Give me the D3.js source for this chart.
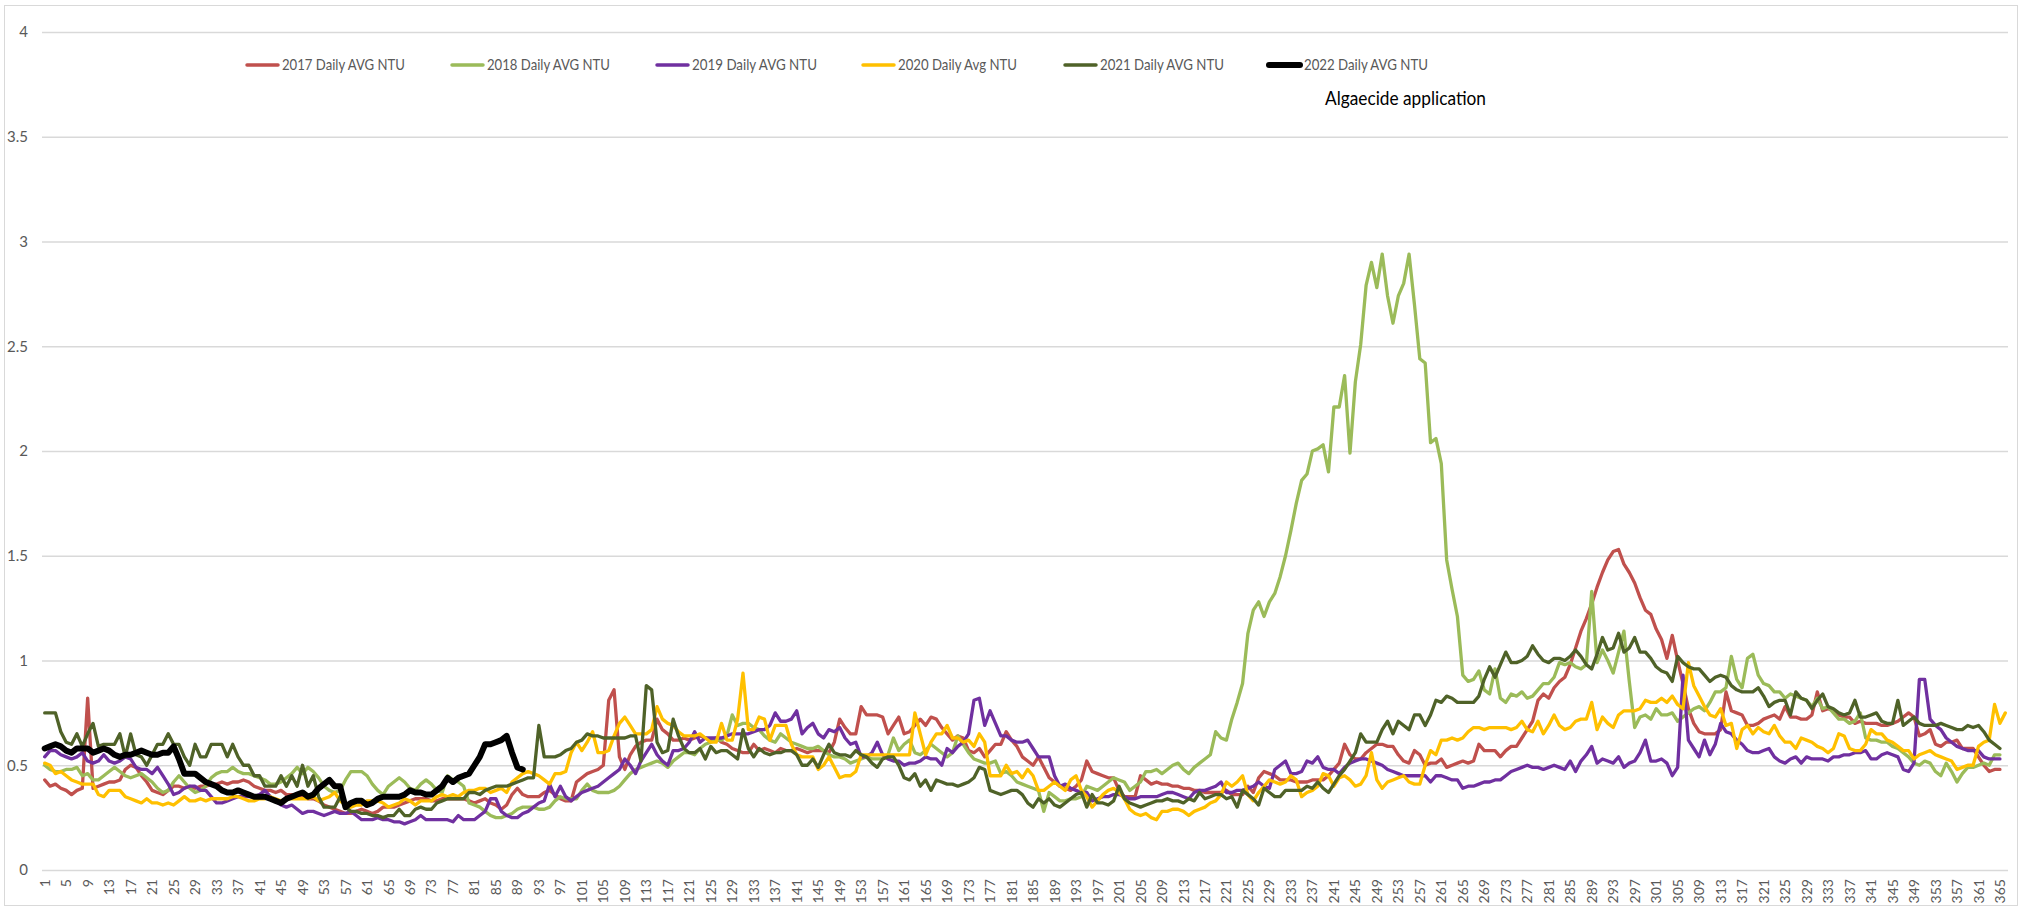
<!DOCTYPE html>
<html>
<head>
<meta charset="utf-8">
<script src="https://cdn.jsdelivr.net/npm/d3@7"></script>
<style>
    body { margin: 0; background: #fff; }
    text { font-family: Lato, 'Liberation Sans', sans-serif; }
</style>
</head>
<body>
<script>
// daily average turbidity (NTU)
let y2017 = [0.43,0.40,0.41,0.39,0.38,0.36,0.38,0.39,0.82,0.39,
    0.40,0.41,0.42,0.42,0.43,0.48,0.50,0.49,0.45,0.42,
    0.38,0.37,0.36,0.38,0.40,0.40,0.39,0.40,0.39,0.40,
    0.40,0.41,0.41,0.42,0.41,0.42,0.42,0.43,0.42,0.40,
    0.39,0.38,0.38,0.37,0.38,0.36,0.36,0.35,0.35,0.34,
    0.34,0.33,0.31,0.30,0.29,0.28,0.27,0.27,0.28,0.29,
    0.28,0.27,0.28,0.30,0.30,0.30,0.31,0.32,0.33,0.34,
    0.34,0.34,0.33,0.33,0.34,0.34,0.34,0.34,0.34,0.33,
    0.32,0.33,0.34,0.32,0.31,0.29,0.31,0.36,0.39,0.36,
    0.35,0.35,0.35,0.37,0.38,0.36,0.34,0.33,0.33,0.42,
    0.44,0.46,0.47,0.48,0.50,0.81,0.86,0.54,0.48,0.55,
    0.59,0.61,0.62,0.62,0.72,0.67,0.65,0.62,0.62,0.63,
    0.62,0.63,0.64,0.63,0.62,0.63,0.61,0.60,0.58,0.57,
    0.56,0.56,0.60,0.57,0.58,0.57,0.56,0.58,0.57,0.57,
    0.58,0.57,0.56,0.57,0.57,0.57,0.56,0.61,0.72,0.68,
    0.65,0.65,0.78,0.74,0.74,0.74,0.73,0.65,0.69,0.73,
    0.65,0.66,0.69,0.72,0.69,0.73,0.72,0.68,0.65,0.62,
    0.64,0.63,0.57,0.56,0.58,0.54,0.57,0.60,0.60,0.66,
    0.62,0.59,0.54,0.52,0.50,0.54,0.49,0.44,0.42,0.40,
    0.39,0.38,0.40,0.43,0.52,0.47,0.46,0.45,0.44,0.44,
    0.38,0.35,0.35,0.35,0.45,0.43,0.41,0.42,0.41,0.41,
    0.40,0.40,0.39,0.39,0.38,0.38,0.37,0.37,0.37,0.37,
    0.38,0.36,0.36,0.36,0.40,0.37,0.44,0.47,0.46,0.45,
    0.43,0.43,0.43,0.42,0.42,0.42,0.43,0.43,0.43,0.45,
    0.48,0.51,0.60,0.55,0.53,0.53,0.56,0.58,0.60,0.60,
    0.59,0.59,0.55,0.52,0.51,0.57,0.55,0.50,0.51,0.51,
    0.53,0.49,0.50,0.51,0.52,0.51,0.52,0.60,0.57,0.57,
    0.57,0.54,0.57,0.59,0.59,0.63,0.67,0.71,0.81,0.84,
    0.82,0.87,0.90,0.92,0.98,1.06,1.14,1.20,1.27,1.35,
    1.42,1.48,1.52,1.53,1.46,1.42,1.37,1.30,1.24,1.22,
    1.15,1.10,1.01,1.12,1.00,0.89,0.77,0.70,0.66,0.65,
    0.65,0.65,0.67,0.85,0.76,0.75,0.74,0.69,0.69,0.70,
    0.72,0.73,0.74,0.72,0.78,0.73,0.73,0.72,0.72,0.74,
    0.85,0.76,0.77,0.76,0.74,0.73,0.73,0.70,0.71,0.70,
    0.70,0.70,0.69,0.69,0.70,0.71,0.73,0.75,0.73,0.64,
    0.65,0.67,0.60,0.59,0.61,0.61,0.62,0.58,0.58,0.58,
    0.54,0.50,0.47,0.48,0.48]

let y2018 = [0.50,0.48,0.47,0.47,0.48,0.48,0.49,0.45,0.46,0.43,
    0.43,0.45,0.47,0.49,0.47,0.45,0.44,0.45,0.46,0.44,
    0.42,0.39,0.37,0.38,0.42,0.45,0.42,0.39,0.37,0.38,
    0.40,0.44,0.46,0.47,0.47,0.49,0.47,0.46,0.46,0.45,
    0.44,0.43,0.41,0.41,0.42,0.44,0.46,0.49,0.46,0.49,
    0.47,0.44,0.40,0.38,0.37,0.38,0.43,0.47,0.47,0.47,
    0.45,0.41,0.38,0.36,0.40,0.42,0.44,0.42,0.39,0.38,
    0.41,0.43,0.41,0.38,0.37,0.45,0.43,0.42,0.40,0.32,
    0.31,0.30,0.28,0.26,0.25,0.25,0.26,0.27,0.29,0.30,
    0.30,0.30,0.29,0.29,0.30,0.33,0.35,0.34,0.34,0.34,
    0.38,0.41,0.38,0.37,0.37,0.37,0.38,0.40,0.43,0.46,
    0.48,0.49,0.50,0.51,0.52,0.51,0.49,0.52,0.54,0.56,
    0.56,0.55,0.58,0.60,0.61,0.62,0.62,0.64,0.74,0.69,
    0.70,0.70,0.68,0.67,0.64,0.62,0.61,0.65,0.63,0.61,
    0.60,0.59,0.58,0.58,0.59,0.57,0.55,0.54,0.54,0.53,
    0.51,0.52,0.53,0.54,0.53,0.53,0.53,0.55,0.63,0.57,
    0.60,0.62,0.56,0.55,0.57,0.60,0.58,0.56,0.54,0.56,
    0.64,0.60,0.56,0.53,0.52,0.51,0.51,0.52,0.46,0.47,
    0.45,0.42,0.41,0.40,0.39,0.38,0.28,0.37,0.35,0.33,
    0.33,0.34,0.34,0.35,0.40,0.39,0.38,0.40,0.42,0.44,
    0.43,0.42,0.38,0.40,0.42,0.47,0.47,0.48,0.46,0.48,
    0.50,0.51,0.48,0.46,0.49,0.51,0.53,0.55,0.66,0.63,
    0.62,0.72,0.80,0.89,1.13,1.24,1.28,1.21,1.28,1.32,
    1.40,1.50,1.62,1.75,1.86,1.89,2.00,2.01,2.03,1.90,
    2.21,2.21,2.36,1.99,2.33,2.51,2.79,2.90,2.78,2.94,
    2.74,2.61,2.74,2.80,2.94,2.70,2.44,2.42,2.04,2.06,
    1.94,1.48,1.34,1.21,0.93,0.90,0.91,0.95,0.86,0.84,
    0.96,0.82,0.80,0.84,0.83,0.85,0.82,0.83,0.86,0.89,
    0.89,0.92,0.99,0.98,0.99,0.97,0.96,0.98,1.33,0.99,
    1.05,1.00,0.94,1.04,1.14,0.90,0.68,0.73,0.74,0.72,
    0.77,0.74,0.74,0.75,0.71,0.73,0.75,0.77,0.78,0.76,
    0.80,0.85,0.85,0.87,1.02,0.91,0.87,1.01,1.03,0.93,
    0.89,0.88,0.85,0.85,0.82,0.84,0.83,0.82,0.81,0.78,
    0.82,0.77,0.78,0.75,0.72,0.72,0.70,0.71,0.75,0.63,
    0.62,0.62,0.61,0.61,0.59,0.58,0.56,0.54,0.51,0.50,
    0.52,0.51,0.47,0.45,0.51,0.47,0.42,0.46,0.49,0.49,
    0.50,0.51,0.50,0.55,0.55]

let y2019 = [0.54,0.57,0.57,0.55,0.54,0.53,0.54,0.56,0.52,0.51,
    0.52,0.55,0.52,0.51,0.52,0.54,0.53,0.49,0.48,0.48,
    0.46,0.49,0.45,0.41,0.36,0.37,0.39,0.40,0.40,0.38,
    0.38,0.35,0.32,0.32,0.33,0.34,0.35,0.35,0.35,0.35,
    0.36,0.38,0.35,0.33,0.31,0.30,0.31,0.29,0.27,0.28,
    0.28,0.27,0.26,0.27,0.28,0.27,0.27,0.28,0.26,0.24,
    0.24,0.24,0.25,0.24,0.24,0.23,0.23,0.22,0.23,0.24,
    0.26,0.24,0.24,0.24,0.24,0.24,0.23,0.26,0.24,0.24,
    0.24,0.26,0.28,0.34,0.34,0.28,0.26,0.25,0.25,0.27,
    0.28,0.30,0.32,0.33,0.41,0.35,0.40,0.35,0.33,0.35,
    0.37,0.38,0.39,0.40,0.42,0.44,0.46,0.48,0.53,0.50,
    0.46,0.52,0.56,0.60,0.55,0.52,0.50,0.57,0.57,0.58,
    0.61,0.66,0.61,0.63,0.63,0.63,0.63,0.64,0.65,0.65,
    0.65,0.65,0.66,0.67,0.67,0.69,0.75,0.71,0.71,0.72,
    0.76,0.65,0.68,0.70,0.65,0.63,0.67,0.66,0.68,0.63,
    0.60,0.61,0.54,0.54,0.56,0.61,0.55,0.53,0.52,0.52,
    0.50,0.51,0.51,0.52,0.54,0.53,0.53,0.50,0.58,0.56,
    0.59,0.61,0.65,0.81,0.82,0.69,0.76,0.70,0.64,0.64,
    0.62,0.61,0.61,0.62,0.58,0.54,0.54,0.54,0.45,0.40,
    0.41,0.39,0.38,0.37,0.37,0.33,0.34,0.35,0.35,0.36,
    0.36,0.35,0.34,0.34,0.35,0.35,0.35,0.35,0.36,0.37,
    0.37,0.36,0.35,0.34,0.37,0.38,0.38,0.39,0.40,0.42,
    0.37,0.37,0.38,0.38,0.39,0.40,0.42,0.40,0.39,0.48,
    0.50,0.52,0.46,0.46,0.47,0.52,0.51,0.54,0.49,0.48,
    0.48,0.46,0.49,0.51,0.52,0.53,0.53,0.52,0.51,0.50,
    0.48,0.47,0.46,0.45,0.45,0.45,0.45,0.45,0.42,0.45,
    0.45,0.44,0.43,0.43,0.39,0.40,0.40,0.41,0.42,0.42,
    0.43,0.43,0.45,0.47,0.48,0.49,0.50,0.49,0.49,0.48,
    0.49,0.50,0.49,0.48,0.52,0.47,0.52,0.55,0.59,0.51,
    0.53,0.52,0.51,0.54,0.49,0.51,0.52,0.56,0.62,0.52,
    0.52,0.53,0.51,0.45,0.49,0.93,0.62,0.58,0.54,0.62,
    0.55,0.60,0.70,0.66,0.65,0.62,0.60,0.57,0.56,0.56,
    0.57,0.58,0.54,0.52,0.51,0.53,0.54,0.51,0.54,0.53,
    0.53,0.53,0.52,0.54,0.54,0.55,0.55,0.56,0.56,0.57,
    0.53,0.53,0.55,0.56,0.55,0.54,0.48,0.47,0.51,0.91,
    0.91,0.72,0.69,0.67,0.63,0.61,0.59,0.58,0.57,0.57,
    0.57,0.54,0.53,0.53,0.53]

// 2020 was a leap year: 366 days
let y2020 = [0.51,0.50,0.46,0.47,0.45,0.43,0.42,0.41,0.41,0.41,
    0.36,0.35,0.38,0.38,0.38,0.35,0.34,0.33,0.32,0.34,
    0.32,0.32,0.31,0.32,0.31,0.33,0.35,0.33,0.33,0.34,
    0.33,0.34,0.34,0.34,0.34,0.35,0.35,0.34,0.33,0.33,
    0.34,0.34,0.35,0.34,0.33,0.34,0.34,0.34,0.34,0.34,
    0.35,0.33,0.34,0.35,0.37,0.33,0.31,0.30,0.31,0.31,
    0.33,0.33,0.33,0.32,0.30,0.31,0.32,0.34,0.33,0.31,
    0.33,0.33,0.33,0.35,0.36,0.35,0.36,0.35,0.37,0.38,
    0.38,0.39,0.39,0.37,0.38,0.39,0.37,0.42,0.44,0.46,
    0.47,0.46,0.45,0.43,0.41,0.46,0.46,0.47,0.56,0.61,
    0.57,0.61,0.66,0.56,0.56,0.57,0.64,0.70,0.73,0.69,
    0.65,0.65,0.65,0.67,0.78,0.72,0.70,0.69,0.66,0.64,
    0.64,0.64,0.65,0.63,0.61,0.61,0.70,0.62,0.62,0.72,
    0.94,0.67,0.67,0.73,0.72,0.62,0.69,0.69,0.69,0.60,
    0.55,0.54,0.54,0.54,0.48,0.50,0.54,0.49,0.44,0.45,
    0.45,0.47,0.55,0.55,0.55,0.55,0.55,0.55,0.55,0.55,
    0.55,0.55,0.75,0.65,0.55,0.61,0.65,0.65,0.69,0.63,
    0.63,0.61,0.62,0.59,0.65,0.61,0.45,0.45,0.45,0.50,
    0.46,0.47,0.44,0.48,0.45,0.38,0.38,0.40,0.42,0.40,
    0.38,0.43,0.45,0.38,0.35,0.30,0.33,0.36,0.38,0.39,
    0.37,0.34,0.29,0.27,0.26,0.27,0.25,0.24,0.28,0.28,
    0.29,0.29,0.28,0.26,0.28,0.29,0.30,0.32,0.33,0.36,
    0.42,0.40,0.42,0.45,0.36,0.33,0.37,0.40,0.43,0.42,
    0.41,0.42,0.45,0.43,0.35,0.37,0.38,0.40,0.46,0.45,
    0.40,0.44,0.45,0.43,0.40,0.41,0.45,0.56,0.43,0.39,
    0.42,0.43,0.44,0.45,0.42,0.41,0.41,0.50,0.57,0.55,
    0.62,0.62,0.63,0.62,0.63,0.66,0.68,0.68,0.67,0.68,
    0.68,0.68,0.68,0.67,0.68,0.71,0.67,0.66,0.71,0.65,
    0.69,0.74,0.69,0.67,0.68,0.71,0.72,0.72,0.80,0.67,
    0.73,0.70,0.68,0.74,0.76,0.76,0.76,0.77,0.81,0.80,
    0.80,0.82,0.80,0.83,0.79,0.77,0.99,0.88,0.83,0.78,
    0.74,0.73,0.77,0.69,0.70,0.58,0.67,0.69,0.65,0.68,
    0.66,0.65,0.69,0.64,0.61,0.61,0.58,0.63,0.62,0.61,
    0.59,0.58,0.56,0.58,0.65,0.64,0.58,0.57,0.57,0.60,
    0.67,0.65,0.65,0.62,0.61,0.59,0.57,0.57,0.53,0.55,
    0.56,0.57,0.55,0.54,0.53,0.52,0.48,0.49,0.50,0.50,
    0.59,0.61,0.62,0.79,0.70,0.75]

let y2021 = [0.75,0.75,0.75,0.66,0.61,0.60,0.65,0.59,0.65,0.70,
    0.59,0.60,0.60,0.60,0.65,0.54,0.65,0.55,0.54,0.50,
    0.55,0.60,0.60,0.65,0.60,0.60,0.54,0.50,0.60,0.54,
    0.54,0.60,0.60,0.60,0.54,0.60,0.54,0.50,0.50,0.45,
    0.45,0.40,0.40,0.40,0.45,0.40,0.45,0.40,0.50,0.40,
    0.45,0.35,0.30,0.30,0.30,0.35,0.30,0.28,0.28,0.27,
    0.27,0.26,0.26,0.25,0.26,0.26,0.29,0.26,0.26,0.29,
    0.30,0.29,0.29,0.32,0.33,0.34,0.34,0.34,0.34,0.37,
    0.37,0.36,0.38,0.39,0.40,0.40,0.40,0.41,0.42,0.43,
    0.44,0.44,0.69,0.54,0.54,0.54,0.55,0.57,0.58,0.61,
    0.62,0.65,0.64,0.64,0.63,0.63,0.63,0.63,0.63,0.64,
    0.64,0.52,0.88,0.86,0.61,0.56,0.57,0.72,0.64,0.58,
    0.56,0.56,0.58,0.53,0.59,0.56,0.57,0.57,0.55,0.53,
    0.67,0.58,0.54,0.58,0.56,0.55,0.56,0.56,0.57,0.57,
    0.55,0.50,0.50,0.53,0.49,0.55,0.60,0.56,0.55,0.55,
    0.54,0.57,0.55,0.54,0.51,0.49,0.53,0.54,0.54,0.50,
    0.44,0.43,0.46,0.40,0.43,0.38,0.43,0.42,0.41,0.41,
    0.40,0.41,0.42,0.44,0.49,0.48,0.38,0.37,0.36,0.37,
    0.38,0.38,0.36,0.32,0.30,0.34,0.32,0.34,0.31,0.30,
    0.32,0.34,0.36,0.37,0.30,0.36,0.32,0.32,0.31,0.33,
    0.40,0.34,0.32,0.31,0.30,0.31,0.32,0.33,0.33,0.34,
    0.33,0.33,0.32,0.34,0.33,0.37,0.34,0.35,0.36,0.36,
    0.34,0.35,0.30,0.38,0.36,0.34,0.31,0.39,0.37,0.35,
    0.35,0.38,0.38,0.38,0.38,0.40,0.39,0.42,0.39,0.37,
    0.41,0.45,0.48,0.52,0.56,0.65,0.61,0.61,0.61,0.67,
    0.71,0.65,0.71,0.69,0.67,0.74,0.74,0.69,0.74,0.81,
    0.80,0.83,0.82,0.80,0.80,0.80,0.80,0.83,0.91,0.97,
    0.92,0.98,1.04,0.99,0.99,1.00,1.02,1.07,1.03,1.00,
    0.99,1.01,1.01,1.00,1.02,1.05,1.02,0.98,0.96,1.03,
    1.11,1.05,1.06,1.13,1.04,1.06,1.11,1.04,1.04,1.01,
    0.97,0.95,0.94,0.90,1.02,0.99,0.97,0.96,0.96,0.93,
    0.90,0.92,0.93,0.92,0.88,0.86,0.85,0.85,0.85,0.87,
    0.83,0.78,0.80,0.81,0.81,0.74,0.85,0.82,0.81,0.77,
    0.81,0.84,0.78,0.77,0.75,0.74,0.75,0.81,0.73,0.73,
    0.74,0.75,0.71,0.70,0.70,0.81,0.69,0.71,0.73,0.70,
    0.69,0.69,0.69,0.70,0.69,0.68,0.67,0.67,0.69,0.68,
    0.69,0.66,0.62,0.60,0.58]

// 2022 only runs to the end of March
let y2022 = [0.58,0.59,0.60,0.59,0.57,0.56,0.58,0.58,0.58,0.56,
    0.57,0.58,0.57,0.55,0.54,0.55,0.55,0.56,0.57,0.56,
    0.55,0.55,0.56,0.56,0.59,0.53,0.46,0.46,0.46,0.44,
    0.42,0.41,0.40,0.38,0.37,0.37,0.38,0.37,0.36,0.35,
    0.35,0.35,0.34,0.33,0.32,0.34,0.35,0.36,0.37,0.35,
    0.36,0.39,0.41,0.43,0.40,0.40,0.30,0.32,0.33,0.33,
    0.31,0.32,0.34,0.35,0.35,0.35,0.35,0.36,0.38,0.37,
    0.37,0.36,0.36,0.38,0.40,0.44,0.42,0.44,0.45,0.46,
    0.50,0.54,0.60,0.60,0.61,0.62,0.64,0.56,0.49,0.48]

let seriesNames = ['2017 Daily AVG NTU', '2018 Daily AVG NTU', '2019 Daily AVG NTU',
    '2020 Daily Avg NTU', '2021 Daily AVG NTU', '2022 Daily AVG NTU']
let seriesValues = [y2017, y2018, y2019, y2020, y2021, y2022]
let seriesColors = ['#C0504D', '#9BBB59', '#7030A0', '#FFC000', '#4F6228', '#000000']

let days = d3.range(1, 367)
let tickDays = d3.range(1, 366, 4)
let yTicks = [0, 0.5, 1, 1.5, 2, 2.5, 3, 3.5, 4]
let note = 'Algaecide application'

// layout
let width = 2021
let height = 909
let plot = { left: 42, right: 2008, top: 32, bottom: 870 }
let legendY = 65
let legendX = [245, 450, 655, 861, 1063, 1267]
let legendTextW = [123, 123, 125, 119, 124, 124]

let svg = d3.select('body')
    .append('svg')
        .attr('width', width)
        .attr('height', height)

svg.append('rect')
    .attr('x', 4.5)
    .attr('y', 5.5)
    .attr('width', 2013)
    .attr('height', 900)
    .attr('fill', 'white')
    .attr('stroke', '#d9d9d9')
    .attr('stroke-width', 1)

let x = d3.scaleBand()
    .domain(days)
    .range([plot.left, plot.right])

let y = d3.scaleLinear()
    .domain([0, 4])
    .range([plot.bottom, plot.top])

let cx = d => x(d) + x.bandwidth() / 2

// gridlines + y labels
let yAxis = svg.append('g')
    .attr('transform', 'translate(' + plot.left + ',0)')
    .call(d3.axisLeft(y)
        .tickValues(yTicks)
        .tickFormat(d3.format('~g'))
        .tickSize(-(plot.right - plot.left))
        .tickPadding(14))

yAxis.select('.domain').remove()
yAxis.selectAll('line')
    .attr('stroke', '#d9d9d9')
    .attr('stroke-width', 1.3)
yAxis.selectAll('text')
    .attr('fill', '#595959')
    .style('font-size', '15px')

// category labels, every 4th day, rotated
let xAxis = svg.append('g')
    .attr('transform', 'translate(0,' + plot.bottom + ')')
    .call(d3.axisBottom(x)
        .tickValues(tickDays)
        .tickSize(0))

xAxis.select('.domain').remove()
xAxis.selectAll('text')
    .attr('transform', 'rotate(-90)')
    .attr('text-anchor', 'end')
    .attr('x', -9)
    .attr('y', 0)
    .attr('dy', '0.36em')
    .attr('fill', '#595959')
    .style('font-size', '14px')

let line = d3.line()
    .x((d, i) => cx(days[i]))
    .y(d => y(d))

svg.append('g')
    .attr('fill', 'none')
    .attr('stroke-linejoin', 'round')
    .attr('stroke-linecap', 'round')
    .selectAll('path')
    .data(seriesValues)
    .enter()
    .append('path')
        .attr('d', d => line(d))
        .attr('stroke', (d, i) => seriesColors[i])
        .attr('stroke-width', (d, i) => i === 5 ? 6 : 3.3)

// legend
let legend = svg.append('g')
    .selectAll('g')
    .data(seriesNames)
    .enter()
    .append('g')
        .attr('transform', (d, i) => 'translate(' + legendX[i] + ',' + legendY + ')')

legend.append('line')
    .attr('x1', 2)
    .attr('x2', 33)
    .attr('stroke', (d, i) => seriesColors[i])
    .attr('stroke-width', (d, i) => i === 5 ? 6 : 3.5)
    .attr('stroke-linecap', 'round')

legend.append('text')
    .attr('x', 37)
    .attr('dy', '0.35em')
    .attr('fill', '#595959')
    .style('font-size', '15px')
    .attr('textLength', (d, i) => legendTextW[i])
    .attr('lengthAdjust', 'spacingAndGlyphs')
    .text(d => d)

svg.append('text')
    .attr('x', 1325)
    .attr('y', 99)
    .attr('dy', '0.35em')
    .attr('fill', '#000')
    .style('font-size', '18.5px')
    .attr('textLength', 161)
    .attr('lengthAdjust', 'spacingAndGlyphs')
    .text(note)
</script>
</body>
</html>
